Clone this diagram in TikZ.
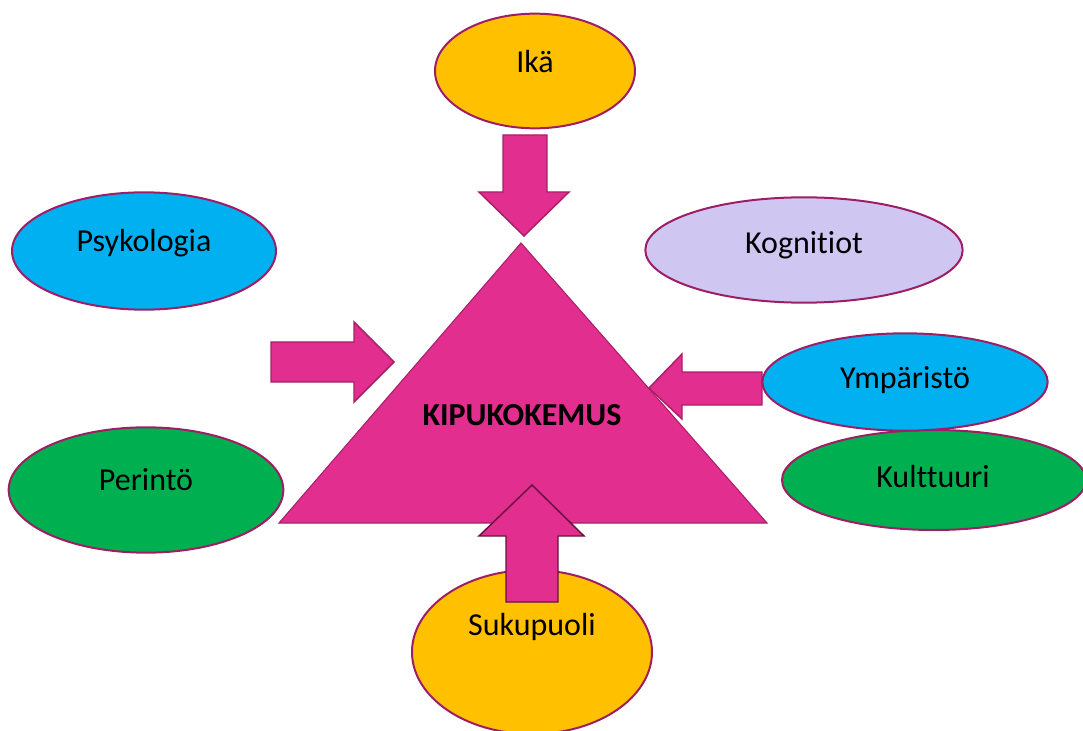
\documentclass[tikz,border=0pt]{standalone}
\usepackage{fontspec}
\setmainfont{Carlito}[Ligatures=NoCommon]
\usetikzlibrary{shapes.geometric}
\definecolor{kipu}{RGB}{226,46,143}
\definecolor{kipuline}{RGB}{168,32,104}
\definecolor{rim}{RGB}{158,30,102}
\definecolor{oranssi}{RGB}{255,192,0}
\definecolor{sininen}{RGB}{0,176,240}
\definecolor{vihrea}{RGB}{0,176,80}
\definecolor{lila}{RGB}{207,198,242}
\begin{document}
\begin{tikzpicture}[
  x=0.75pt, y=-0.75pt,
  oval/.style={ellipse, draw=rim, line width=1.5pt, inner sep=0pt},
  lbl/.style={font=\fontsize{24}{28}\selectfont, inner sep=0pt},
  blockarrow/.style={fill=kipu, draw=kipuline, line width=1.1pt, line join=miter}
]
\useasboundingbox (0,0) rectangle (1083,731);
% ovals
\node[oval, fill=oranssi, minimum width=150pt, minimum height=86pt] (ika) at (535,71) {};
\node[oval, fill=sininen, minimum width=198pt, minimum height=88pt] (psyk) at (144,251) {};
\node[oval, fill=lila, minimum width=238pt, minimum height=79pt] (kogn) at (804,250) {};
\node[oval, fill=vihrea, minimum width=206pt, minimum height=94pt] (peri) at (146,490) {};
\node[oval, fill=vihrea, minimum width=228pt, minimum height=75pt] (kult) at (934,480) {};
\node[oval, fill=oranssi, minimum width=180pt, minimum height=123pt] (suku) at (532,652) {};
% triangle
\draw[fill=kipu, draw=kipuline, line width=0.8pt] (521,243) -- (767,523) -- (279,523) -- cycle;
\coordinate (kipu) at (522,415);
% arrows
\draw[blockarrow] (503,135) -- (547,135) -- (547,192) -- (569,192) -- (524,236)
  -- (479,192) -- (503,192) -- cycle;
\draw[blockarrow] (271,342) -- (354,342) -- (354,322) -- (394,362) -- (354,402)
  -- (354,382) -- (271,382) -- cycle;
\draw[blockarrow] (762,372) -- (682,372) -- (682,354) -- (649,388) -- (682,419)
  -- (682,405) -- (762,405) -- cycle;
\node[oval, fill=sininen, minimum width=214pt, minimum height=73pt] (ymp) at (905,382) {};
\draw[blockarrow, draw=black!40!kipuline] (506,602) -- (506,536) -- (479,536) -- (532,485)
  -- (584,536) -- (558,536) -- (558,602) -- cycle;
% texts
\node[lbl] at (535,62) {Ikä};
\node[lbl] at (144,243) {Psykologia};
\node[lbl] at (804,245) {Kognitiot};
\node[lbl] at (905,380) {Ympäristö};
\node[lbl] at (933,477) {Kulttuuri};
\node[lbl] at (146,480) {Perintö};
\node[lbl] at (532,627) {Sukupuoli};
\node[lbl, font=\fontsize{24}{28}\selectfont\bfseries] at (kipu) {KIPUKOKEMUS};
\end{tikzpicture}
\end{document}
